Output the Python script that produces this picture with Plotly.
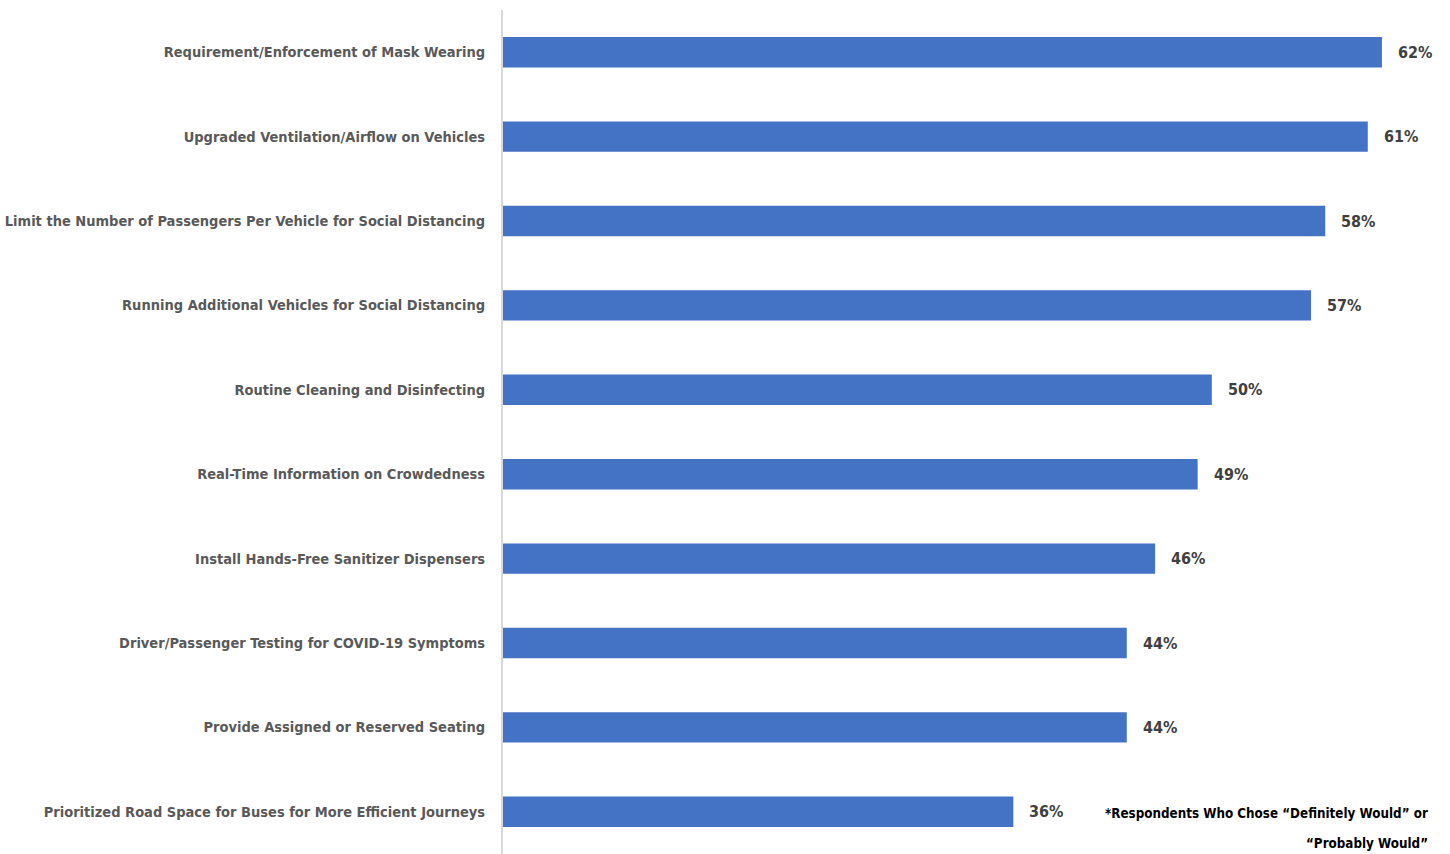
import plotly.graph_objects as go

# Survey measures, top to bottom, with share of respondents (%)
measures = [
    "Requirement/Enforcement of Mask Wearing",
    "Upgraded Ventilation/Airflow on Vehicles",
    "Limit the Number of Passengers Per Vehicle for Social Distancing",
    "Running Additional Vehicles for Social Distancing",
    "Routine Cleaning and Disinfecting",
    "Real-Time Information on Crowdedness",
    "Install Hands-Free Sanitizer Dispensers",
    "Driver/Passenger Testing for COVID-19 Symptoms",
    "Provide Assigned or Reserved Seating",
    "Prioritized Road Space for Buses for More Efficient Journeys",
]
shares = [62, 61, 58, 57, 50, 49, 46, 44, 44, 36]
footnote_lines = ["*Respondents Who Chose “Definitely Would” or", "“Probably Would”"]

FONT = "DejaVu Sans Condensed, Liberation Sans Narrow, sans-serif"
BAR_COLOR = "#4472C4"

W, H = 1450, 854
M_L, M_T = 503, 10

fig = go.Figure(
    go.Bar(
        x=shares,
        y=measures,
        orientation="h",
        marker=dict(color=BAR_COLOR, line=dict(width=0)),
        hoverinfo="skip",
    )
)

# Percentage labels placed just past each bar end
for m, v in zip(measures, shares):
    fig.add_annotation(
        x=v, y=m, xref="x", yref="y",
        text=f"<b>{v}%</b>",
        showarrow=False, xanchor="left", yanchor="middle",
        xshift=14,
        font=dict(family=FONT, size=16, color="#404040"),
    )

# Footnote, right-aligned in the bottom-right corner
for line, ypix in zip(footnote_lines, [813, 843]):
    fig.add_annotation(
        x=(1430 - M_L) / (W - M_L), y=(H - ypix) / (H - M_T),
        xref="x domain", yref="paper",
        text=f"<b>{line}</b>",
        showarrow=False, xanchor="right", yanchor="middle",
        font=dict(family=FONT, size=13.3, color="#000000"),
    )

fig.update_layout(
    width=W, height=H,
    margin=dict(l=M_L, r=0, t=M_T, b=0),
    paper_bgcolor="white", plot_bgcolor="white",
    bargap=0.64,
    showlegend=False,
    xaxis=dict(range=[0, 66.8], visible=False, fixedrange=True),
    yaxis=dict(
        categoryorder="array",
        categoryarray=measures[::-1],
        showline=True, linecolor="#D9D9D9", linewidth=2,
        showgrid=False, ticks="",
        ticklabelstandoff=13,
        automargin=False,
        tickfont=dict(family=FONT, size=14.5, color="#595959"),
        tickprefix="<b>", ticksuffix="</b>",
        fixedrange=True,
    ),
)

fig.write_html("out.html")
